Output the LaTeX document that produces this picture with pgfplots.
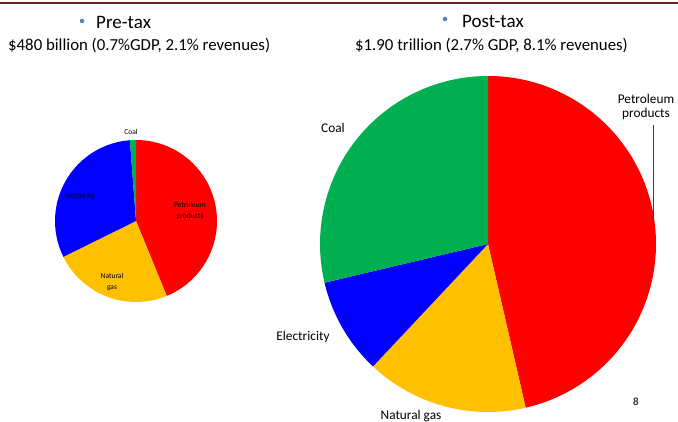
\documentclass[border=0pt]{standalone}
\usepackage{pgfplots}
\usepackage{pgfplotstable}
\pgfplotsset{compat=1.18}
\usepackage{fontspec}
\setmainfont{Carlito}
\definecolor{piered}{RGB}{255,0,0}
\definecolor{pieyellow}{RGB}{255,192,0}
\definecolor{pieblue}{RGB}{0,0,255}
\definecolor{piegreen}{RGB}{0,176,80}
\definecolor{bullet}{RGB}{79,129,189}
\definecolor{topline}{RGB}{110,30,30}

\pgfplotstableread{
label value color
Petroleum 43.8 piered
Gas 23.9 pieyellow
Electricity 31.1 pieblue
Coal 1.2 piegreen
}\pretaxdata

\pgfplotstableread{
label value color
Petroleum 46.4 piered
Gas 15.6 pieyellow
Electricity 9.3 pieblue
Coal 28.7 piegreen
}\posttaxdata

\newcommand{\drawpie}[4]{%
  \pgfplotstablegetrowsof{#1}\pgfmathtruncatemacro{\nrows}{\pgfplotsretval-1}%
  \xdef\pieangle{90}%
  \pgfplotsforeachungrouped \i in {0,...,\nrows}{%
    \pgfplotstablegetelem{\i}{value}\of{#1}\let\pieval\pgfplotsretval
    \pgfplotstablegetelem{\i}{color}\of{#1}\let\piecol\pgfplotsretval
    \pgfmathsetmacro{\pieend}{\pieangle-3.6*\pieval}%
    \fill[\piecol] (axis cs:#2,#3) -- ++(\pieangle:#4pt) arc[start angle=\pieangle,end angle=\pieend,radius=#4pt] -- cycle;%
    \xdef\pieangle{\pieend}%
  }%
}

\begin{document}
\begin{tikzpicture}
\begin{axis}[x=1pt,y=1pt,xmin=0,xmax=678,ymin=0,ymax=422,hide axis,clip=false,
  scale only axis,anchor=south west,at={(0pt,0pt)}]
\pgfplotsextra{\drawpie{\pretaxdata}{136}{201}{81}}
\pgfplotsextra{\drawpie{\posttaxdata}{488}{178}{168}}
% top border
\draw[topline,line width=2pt] (axis cs:0,419) -- (axis cs:678,419);
% titles
\node[circle,fill=bullet,inner sep=0pt,minimum size=4.5pt] at (axis cs:82,401) {};
\node[anchor=west,inner sep=0pt,font=\fontsize{19}{21}\selectfont] at (axis cs:96,400) {Pre-tax};
\node[anchor=west,inner sep=0pt,font=\fontsize{16.8}{18}\selectfont] at (axis cs:8,376) {\$480 billion (0.7\%GDP, 2.1\% revenues)};
\node[circle,fill=bullet,inner sep=0pt,minimum size=4.5pt] at (axis cs:445,403) {};
\node[anchor=west,inner sep=0pt,font=\fontsize{19}{21}\selectfont] at (axis cs:462,401) {Post-tax};
\node[anchor=west,inner sep=0pt,font=\fontsize{16.8}{18}\selectfont] at (axis cs:355,376) {\$1.90 trillion (2.7\% GDP, 8.1\% revenues)};
% small pie labels
\node[font=\fontsize{7.5}{8}\selectfont,inner sep=0pt] at (axis cs:131,290) {Coal};
\node[font=\fontsize{7.5}{8}\selectfont,inner sep=0pt] at (axis cs:80,225) {Electricity};
\node[font=\fontsize{7.5}{11}\selectfont,inner sep=0pt,align=center] at (axis cs:190,211) {Petroleum\\products};
\node[font=\fontsize{7.5}{11}\selectfont,inner sep=0pt,align=center] at (axis cs:112,140) {Natural\\gas};
% big pie labels
\node[font=\fontsize{13.3}{14}\selectfont,inner sep=0pt] at (axis cs:333,294) {Coal};
\node[font=\fontsize{13.3}{14}\selectfont,inner sep=0pt,align=center] at (axis cs:646,315) {Petroleum\\products};
\draw[black!75,line width=0.8pt] (axis cs:653,297) -- (axis cs:653,190);
\node[font=\fontsize{13.3}{14}\selectfont,inner sep=0pt] at (axis cs:303,85) {Electricity};
\node[font=\fontsize{13.3}{14}\selectfont,inner sep=0pt] at (axis cs:411,6) {Natural gas};
\node[font=\fontsize{11}{12}\selectfont\bfseries,inner sep=0pt,black!80] at (axis cs:636,20) {8};
\end{axis}
\pgfresetboundingbox
\path (0,0) rectangle (678pt,422pt);
\end{tikzpicture}
\end{document}
